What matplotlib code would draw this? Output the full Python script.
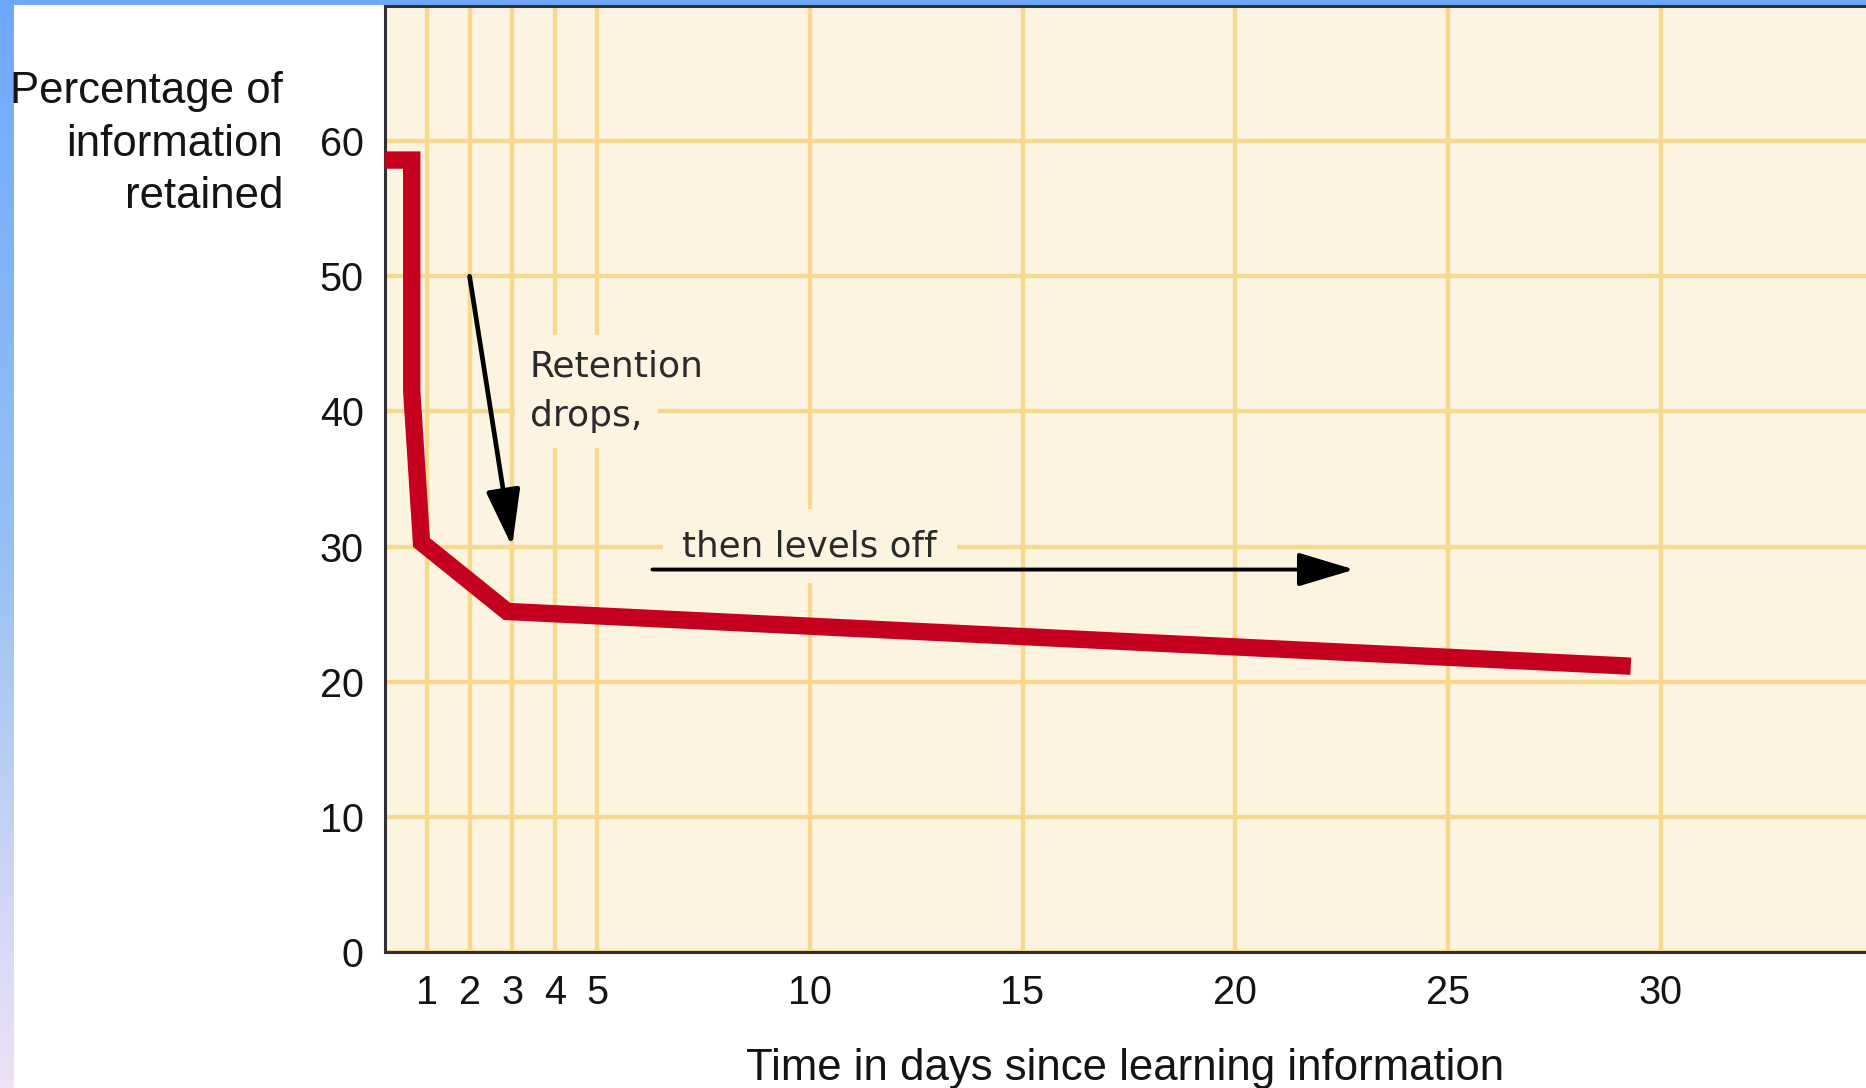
import numpy as np
import matplotlib
matplotlib.use("Agg")
import matplotlib.pyplot as plt
from matplotlib.patches import Rectangle, ArrowStyle

# Forgetting curve: retention (%) against days since learning
days = [0, 0.64, 0.64, 0.87, 2.88, 29.3]
retention = [58.6, 58.6, 41.5, 30.3, 25.2, 21.15]

x_ticks = [1, 2, 3, 4, 5, 10, 15, 20, 25, 30]
y_ticks = [0, 10, 20, 30, 40, 50, 60]

x_label = "Time in days since learning information"
y_label = "Percentage of\ninformation\nretained"
note_drop = ["Retention", "drops,"]
note_level = "then levels off"

W, H = 1866, 1088
BG = "#fdf3e1"
GRID = "#f6d98f"
RED = "#c5001e"
INK = "#141414"

fig = plt.figure(figsize=(W / 100, H / 100), dpi=100)
fig.patch.set_facecolor("white")

# slide decoration: blue gradient strip on the left, blue band along the top
strip = fig.add_axes([0, 0, 14 / W, 1])
grad = np.linspace(0, 1, 256)[:, None]
top_c = np.array([110, 168, 255]) / 255
mid_c = np.array([150, 192, 242]) / 255
bot_c = np.array([238, 226, 246]) / 255
cols = np.where(grad[..., None] < 0.5,
                top_c + (mid_c - top_c) * (grad[..., None] / 0.5),
                mid_c + (bot_c - mid_c) * ((grad[..., None] - 0.5) / 0.5))
strip.imshow(cols, aspect="auto", extent=[0, 1, 0, 1])
strip.set_axis_off()
fig.patches.append(Rectangle((0, 1 - 5 / H), 1, 5 / H, transform=fig.transFigure,
                             facecolor="#6ea8fe", edgecolor="none", zorder=10))

ax = fig.add_axes([384.5 / W, 1 - 952 / H, 1 - 384.5 / W, 946 / H])
ax.set_facecolor(BG)
ax.set_xlim(0, 34.83)
ax.set_ylim(0, 70)

ax.set_xticks(x_ticks)
ax.set_yticks(y_ticks)
ax.tick_params(length=0, labelsize=28.5, colors=INK)
ax.tick_params(axis="y", pad=15)
ax.tick_params(axis="x", pad=16)
for lab in ax.get_xticklabels() + ax.get_yticklabels():
    lab.set_fontfamily("Liberation Sans")

ax.grid(True, color=GRID, lw=3.2, zorder=0.5)
ax.set_axisbelow(True)

for side in ("left", "bottom", "top"):
    ax.spines[side].set_color("#303030")
    ax.spines[side].set_linewidth(2.2)
ax.spines["right"].set_visible(False)

ax.plot(days, retention, color=RED, lw=12.5, solid_joinstyle="miter",
        solid_capstyle="butt", zorder=3, clip_on=False)

# annotations with boxes that mask the grid behind them
drop_box = dict(boxstyle="square,pad=0.42", facecolor=BG, edgecolor="none")
level_box = dict(boxstyle="square,pad=0.55", facecolor=BG, edgecolor="none")
ax.text(3.42, 42.55, note_drop[0], fontsize=26, family="DejaVu Sans",
        color="#2a2a2a", va="baseline", ha="left", bbox=drop_box, zorder=2)
ax.text(3.42, 38.95, note_drop[1], fontsize=26, family="DejaVu Sans",
        color="#2a2a2a", va="baseline", ha="left", bbox=drop_box, zorder=2)
ax.text(7.0, 29.3, note_level, fontsize=25.7, family="DejaVu Sans",
        color="#2a2a2a", va="baseline", ha="left", bbox=level_box, zorder=2)

head = ArrowStyle("-|>", head_length=3.5, head_width=1.05)
ax.annotate("", xy=(3.0, 30.0), xytext=(2.0, 50.0),
            arrowprops=dict(arrowstyle=head, mutation_scale=10, lw=3.4,
                            color="black", shrinkA=0, shrinkB=0), zorder=4)
ax.annotate("", xy=(22.8, 28.3), xytext=(6.3, 28.3),
            arrowprops=dict(arrowstyle=head, mutation_scale=10, lw=2.8,
                            color="black", shrinkA=0, shrinkB=0), zorder=4)

ax.set_xlabel(x_label, fontsize=31.5, family="Liberation Sans", color=INK)
ax.xaxis.set_label_coords(0.5, -0.102)

fig.text(283 / W, 1 - 144 / H, y_label, fontsize=31.5, family="Liberation Sans",
         color=INK, ha="right", va="center", multialignment="right",
         linespacing=1.36)

fig.savefig("out.png", dpi=100, facecolor="white")
